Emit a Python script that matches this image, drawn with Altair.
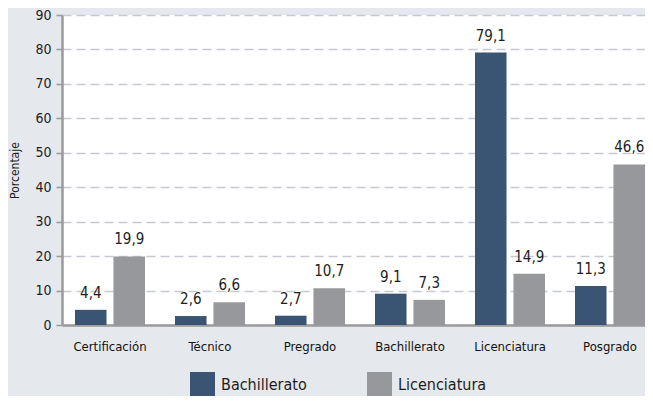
import altair as alt
import pandas as pd

categories = ["Certificación", "Técnico", "Pregrado", "Bachillerato", "Licenciatura", "Posgrado"]
series = ["Bachillerato", "Licenciatura"]
bachillerato = [4.4, 2.6, 2.7, 9.1, 79.1, 11.3]
licenciatura = [19.9, 6.6, 10.7, 7.3, 14.9, 46.6]
colors = ["#3a5573", "#97989c"]
y_ticks = [0, 10, 20, 30, 40, 50, 60, 70, 80, 90]

rows = []
for c, b, l in zip(categories, bachillerato, licenciatura):
    rows.append({"cat": c, "serie": series[0], "val": b})
    rows.append({"cat": c, "serie": series[1], "val": l})
df = pd.DataFrame(rows)
df["label"] = df["val"].map(lambda v: f"{v:.1f}".replace(".", ","))

FONT = "DejaVu Sans Condensed, DejaVu Sans, sans-serif"

x = alt.X("cat:N", sort=categories, title=None,
          scale=alt.Scale(paddingInner=0.3, paddingOuter=0.065, align=1),
          axis=alt.Axis(labelAngle=0, ticks=False, labelPadding=15, labelFontSize=13,
                        labelColor="#111111", labelFont=FONT, domainColor="#9a9a9a",
                        domainWidth=2.5, grid=False, labelFontWeight=500))
xo = alt.XOffset("serie:N", sort=series, scale=alt.Scale(paddingInner=0.18, paddingOuter=0))
y = alt.Y("val:Q", title="Porcentaje",
          scale=alt.Scale(domain=[0, 90], nice=False),
          axis=alt.Axis(values=y_ticks, labelOverlap=False, tickSize=6, tickColor="#9a9a9a",
                        tickWidth=1.5, labelFontSize=14, labelFont=FONT, labelColor="#1e1e1e",
                        labelPadding=5, domainColor="#9a9a9a", domainWidth=2.5,
                        gridColor="#c5c9d3", gridDash=[9, 5], gridWidth=1.5,
                        titleFont=FONT, titleFontSize=12, titleFontWeight="normal",
                        titleColor="#1e1e1e", titlePadding=13))
color = alt.Color("serie:N", sort=series,
                  scale=alt.Scale(domain=series, range=colors),
                  legend=alt.Legend(title=None, orient="none", direction="horizontal",
                                    legendX=128, legendY=357, symbolType="square",
                                    symbolSize=625, symbolStrokeWidth=0, symbolOpacity=1,
                                    labelFontSize=16, labelFont=FONT, labelColor="#1e1e1e",
                                    labelOffset=6, columnPadding=60, padding=0))

base = alt.Chart(df)
bars = base.mark_bar().encode(x=x, xOffset=xo, y=y, color=color)
texts = base.mark_text(baseline="alphabetic", dy=-12, fontSize=15, font=FONT,
                       color="#1e1e1e").encode(x=x, xOffset=xo, y=y, text="label:N")

chart = (bars + texts).properties(
    width=583, height=310,
    autosize=alt.AutoSizeParams(type="none"),
    padding={"left": 54, "top": 7, "right": 0, "bottom": 71},
    background="#e5e8ec",
).configure_view(fill="white", stroke=None)

chart.save("out.html", embed_options={"renderer": "svg", "actions": False})
